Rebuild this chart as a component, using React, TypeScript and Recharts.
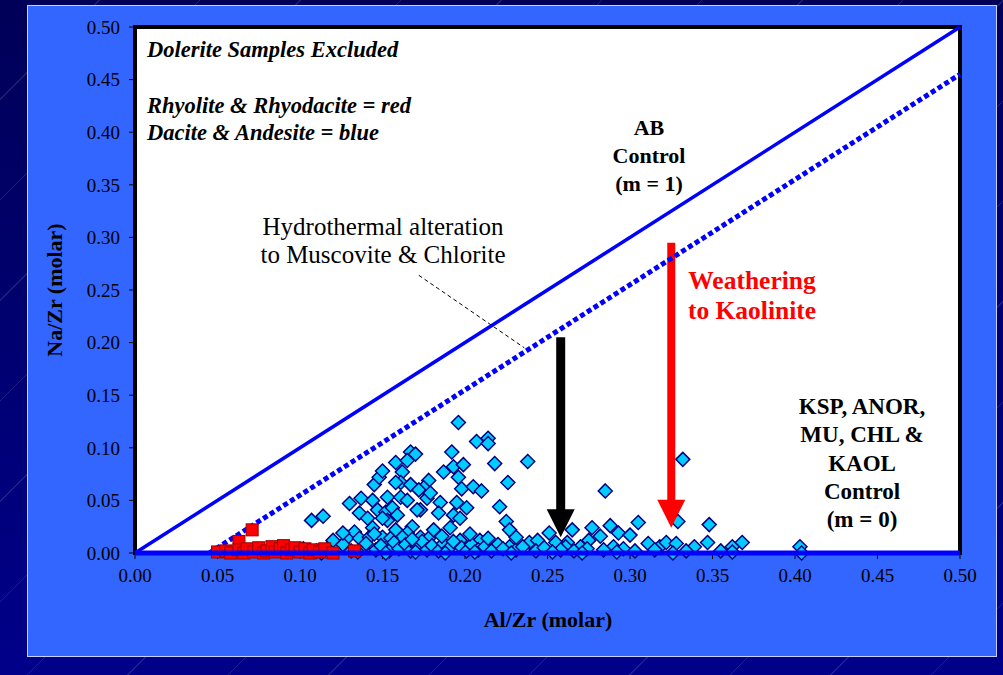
import { ScatterChart, Scatter, XAxis, YAxis, CartesianGrid, ReferenceArea, ReferenceLine, ReferenceDot } from 'recharts';

// Dacite & Andesite (blue) – Al/Zr vs Na/Zr (molar)
const daciteAndesite = [
  { x: 0.196, y: 0.124 }, { x: 0.207, y: 0.106 }, { x: 0.214, y: 0.109 }, { x: 0.214, y: 0.104 },
  { x: 0.192, y: 0.096 }, { x: 0.218, y: 0.085 }, { x: 0.238, y: 0.087 }, { x: 0.226, y: 0.067 },
  { x: 0.221, y: 0.044 }, { x: 0.225, y: 0.030 }, { x: 0.227, y: 0.022 }, { x: 0.178, y: 0.069 },
  { x: 0.193, y: 0.082 }, { x: 0.199, y: 0.084 }, { x: 0.187, y: 0.077 }, { x: 0.196, y: 0.072 },
  { x: 0.198, y: 0.061 }, { x: 0.205, y: 0.063 }, { x: 0.210, y: 0.059 }, { x: 0.185, y: 0.048 },
  { x: 0.195, y: 0.048 }, { x: 0.201, y: 0.043 }, { x: 0.184, y: 0.038 }, { x: 0.193, y: 0.036 },
  { x: 0.197, y: 0.033 }, { x: 0.177, y: 0.052 }, { x: 0.175, y: 0.062 }, { x: 0.173, y: 0.041 },
  { x: 0.107, y: 0.031 }, { x: 0.114, y: 0.035 }, { x: 0.130, y: 0.047 }, { x: 0.137, y: 0.052 },
  { x: 0.136, y: 0.038 }, { x: 0.144, y: 0.050 }, { x: 0.145, y: 0.065 }, { x: 0.148, y: 0.072 },
  { x: 0.150, y: 0.078 }, { x: 0.158, y: 0.086 }, { x: 0.167, y: 0.096 }, { x: 0.170, y: 0.094 },
  { x: 0.165, y: 0.088 }, { x: 0.162, y: 0.077 }, { x: 0.161, y: 0.067 }, { x: 0.158, y: 0.067 },
  { x: 0.153, y: 0.053 }, { x: 0.161, y: 0.053 }, { x: 0.167, y: 0.065 }, { x: 0.172, y: 0.060 },
  { x: 0.179, y: 0.057 }, { x: 0.165, y: 0.050 }, { x: 0.171, y: 0.041 }, { x: 0.147, y: 0.041 },
  { x: 0.152, y: 0.039 }, { x: 0.156, y: 0.043 }, { x: 0.159, y: 0.036 }, { x: 0.153, y: 0.031 },
  { x: 0.150, y: 0.033 }, { x: 0.141, y: 0.033 }, { x: 0.144, y: 0.024 }, { x: 0.168, y: 0.025 },
  { x: 0.165, y: 0.019 }, { x: 0.173, y: 0.015 }, { x: 0.162, y: 0.015 }, { x: 0.129, y: 0.015 },
  { x: 0.133, y: 0.020 }, { x: 0.136, y: 0.014 }, { x: 0.142, y: 0.015 }, { x: 0.150, y: 0.015 },
  { x: 0.155, y: 0.014 }, { x: 0.178, y: 0.014 }, { x: 0.181, y: 0.022 },
  { x: 0.251, y: 0.019 }, { x: 0.265, y: 0.022 }, { x: 0.277, y: 0.024 }, { x: 0.288, y: 0.026 },
  { x: 0.293, y: 0.019 }, { x: 0.300, y: 0.017 }, { x: 0.305, y: 0.029 }, { x: 0.282, y: 0.016 },
  { x: 0.275, y: 0.012 }, { x: 0.262, y: 0.010 }, { x: 0.239, y: 0.010 }, { x: 0.244, y: 0.012 },
  { x: 0.255, y: 0.010 }, { x: 0.311, y: 0.009 }, { x: 0.318, y: 0.006 }, { x: 0.322, y: 0.010 },
  { x: 0.328, y: 0.009 }, { x: 0.339, y: 0.006 }, { x: 0.290, y: 0.006 }, { x: 0.270, y: 0.006 },
  { x: 0.261, y: 0.006 }, { x: 0.227, y: 0.006 }, { x: 0.220, y: 0.008 }, { x: 0.209, y: 0.012 },
  { x: 0.197, y: 0.012 }, { x: 0.285, y: 0.059 }, { x: 0.332, y: 0.089 }, { x: 0.329, y: 0.030 },
  { x: 0.348, y: 0.027 }, { x: 0.347, y: 0.010 }, { x: 0.368, y: 0.010 }, { x: 0.362, y: 0.006 },
  { x: 0.403, y: 0.006 },
  { x: 0.102, y: 0.004 }, { x: 0.110, y: 0.002 }, { x: 0.118, y: 0.006 }, { x: 0.122, y: 0.003 },
  { x: 0.126, y: 0.008 }, { x: 0.131, y: 0.002 }, { x: 0.138, y: 0.005 }, { x: 0.140, y: 0.009 },
  { x: 0.146, y: 0.003 }, { x: 0.149, y: 0.007 }, { x: 0.154, y: 0.002 }, { x: 0.157, y: 0.010 },
  { x: 0.160, y: 0.004 }, { x: 0.164, y: 0.008 }, { x: 0.167, y: 0.002 }, { x: 0.171, y: 0.006 },
  { x: 0.174, y: 0.011 }, { x: 0.177, y: 0.003 }, { x: 0.180, y: 0.007 }, { x: 0.184, y: 0.002 },
  { x: 0.187, y: 0.009 }, { x: 0.190, y: 0.004 }, { x: 0.193, y: 0.011 }, { x: 0.198, y: 0.005 },
  { x: 0.201, y: 0.002 }, { x: 0.204, y: 0.008 }, { x: 0.208, y: 0.003 }, { x: 0.212, y: 0.006 },
  { x: 0.216, y: 0.002 }, { x: 0.223, y: 0.004 }, { x: 0.231, y: 0.003 }, { x: 0.235, y: 0.006 },
  { x: 0.243, y: 0.002 }, { x: 0.248, y: 0.005 }, { x: 0.258, y: 0.003 }, { x: 0.266, y: 0.002 },
  { x: 0.274, y: 0.004 }, { x: 0.284, y: 0.003 }, { x: 0.296, y: 0.004 }, { x: 0.303, y: 0.002 },
  { x: 0.315, y: 0.003 }, { x: 0.334, y: 0.002 }, { x: 0.355, y: 0.002 }, { x: 0.145, y: 0.018 },
  { x: 0.158, y: 0.022 }, { x: 0.186, y: 0.016 }, { x: 0.191, y: 0.024 }, { x: 0.168, y: 0.013 },
  { x: 0.203, y: 0.018 }, { x: 0.214, y: 0.014 }, { x: 0.231, y: 0.015 }, { x: 0.120, y: 0.012 },
  { x: 0.126, y: 0.019 },
  { x: 0.113, y: 0.000 }, { x: 0.135, y: 0.001 }, { x: 0.152, y: 0.000 }, { x: 0.170, y: 0.001 },
  { x: 0.188, y: 0.000 }, { x: 0.206, y: 0.001 }, { x: 0.228, y: 0.000 }, { x: 0.253, y: 0.001 },
  { x: 0.271, y: 0.000 }, { x: 0.292, y: 0.001 }, { x: 0.326, y: 0.000 }, { x: 0.362, y: 0.001 },
  { x: 0.404, y: 0.000 },
];

// Rhyolite & Rhyodacite (red)
const rhyoliteRhyodacite = [
  { x: 0.050, y: 0.001 }, { x: 0.055, y: 0.002 }, { x: 0.058, y: 0.000 }, { x: 0.063, y: 0.011 },
  { x: 0.063, y: 0.003 }, { x: 0.066, y: 0.000 }, { x: 0.071, y: 0.022 }, { x: 0.068, y: 0.004 },
  { x: 0.072, y: 0.001 }, { x: 0.075, y: 0.005 }, { x: 0.078, y: 0.000 }, { x: 0.080, y: 0.002 },
  { x: 0.083, y: 0.006 }, { x: 0.085, y: 0.001 }, { x: 0.088, y: 0.004 }, { x: 0.090, y: 0.007 },
  { x: 0.092, y: 0.000 }, { x: 0.095, y: 0.003 }, { x: 0.097, y: 0.005 }, { x: 0.100, y: 0.001 },
  { x: 0.103, y: 0.004 }, { x: 0.106, y: 0.000 }, { x: 0.108, y: 0.003 }, { x: 0.112, y: 0.001 },
  { x: 0.115, y: 0.004 }, { x: 0.120, y: 0.000 }, { x: 0.133, y: 0.002 },
];

// control lines
const abControl = [{ x: 0, y: 0 }, { x: 0.5, y: 0.5 }];
const abOffset = [{ x: 0.045, y: 0 }, { x: 0.5, y: 0.455 }];
const zeroControl = [{ x: 0, y: 0 }, { x: 0.5, y: 0 }];

const xTicks = [0, 0.05, 0.1, 0.15, 0.2, 0.25, 0.3, 0.35, 0.4, 0.45, 0.5];
const yTicks = [0, 0.05, 0.1, 0.15, 0.2, 0.25, 0.3, 0.35, 0.4, 0.45, 0.5];

const SERIF = '"Liberation Serif", "Times New Roman", serif';

const Diamond = ({ cx, cy }: any) => (
  <polygon
    points={`${cx},${cy - 7} ${cx + 7},${cy} ${cx},${cy + 7} ${cx - 7},${cy}`}
    fill="#00ccff"
    stroke="#000080"
    strokeWidth={1.5}
  />
);

const Square = ({ cx, cy }: any) => (
  <rect x={cx - 6} y={cy - 6} width={12} height={12} fill="#ff0000" stroke="#990000" strokeWidth={1} />
);

const ArrowHead = ({ cx, cy, color }: any) => (
  <polygon points={`${cx - 14},${cy - 28} ${cx + 14},${cy - 28} ${cx},${cy}`} fill={color} />
);

const noShape = () => <g />;

const txt = (extra: any) => ({
  position: 'absolute' as const,
  fontFamily: SERIF,
  color: '#000',
  whiteSpace: 'nowrap' as const,
  ...extra,
});

export default function App() {
  return (
    <div
      style={{
        position: 'absolute',
        left: 0,
        top: 0,
        width: 1003,
        height: 675,
        overflow: 'hidden',
        background:
          'repeating-linear-gradient(135deg, rgba(255,255,255,0) 0px, rgba(255,255,255,0) 70px, rgba(255,255,255,0.12) 70px, rgba(255,255,255,0.12) 71px), linear-gradient(#000058, #00008a)',
      }}
    >
      <div
        style={{
          position: 'absolute',
          left: 27,
          top: 5,
          width: 968,
          height: 650,
          background: '#3366ff',
          border: '1px solid #c8d0ff',
        }}
      />
      <div style={{ position: 'absolute', left: 0, top: 0 }}>
        <ScatterChart width={1003} height={675} margin={{ top: 27, right: 43, bottom: 62, left: 75 }}>
          <CartesianGrid horizontal={false} vertical={false} fill="#ffffff" />
          <XAxis
            type="number"
            dataKey="x"
            domain={[0, 0.5]}
            ticks={xTicks}
            interval={0}
            height={60}
            axisLine={false}
            tickLine={{ stroke: '#000' }}
            tickSize={6}
            tickMargin={10}
            tickFormatter={(v) => v.toFixed(2)}
            tick={{ fill: '#000', fontSize: 19, fontFamily: SERIF }}
          />
          <YAxis
            type="number"
            dataKey="y"
            domain={[0, 0.5]}
            ticks={yTicks}
            interval={0}
            width={60}
            axisLine={false}
            tickLine={{ stroke: '#000' }}
            tickSize={6}
            tickMargin={9}
            tickFormatter={(v) => v.toFixed(2)}
            tick={{ fill: '#000', fontSize: 19, fontFamily: SERIF }}
          />
          <ReferenceArea x1={0} x2={0.5} y1={0} y2={0.5} fill="none" stroke="#000" strokeWidth={4} />
          <ReferenceLine
            segment={[{ x: 0.172, y: 0.264 }, { x: 0.236, y: 0.195 }]}
            stroke="#000"
            strokeWidth={1}
            strokeDasharray="4 3"
          />
          <Scatter data={abControl} line={{ stroke: '#0000ff', strokeWidth: 3.5 }} shape={noShape} isAnimationActive={false} />
          <Scatter
            data={abOffset}
            line={{ stroke: '#0000ff', strokeWidth: 5, strokeDasharray: '5 3' }}
            shape={noShape}
            isAnimationActive={false}
          />
          <Scatter data={daciteAndesite} shape={Diamond} isAnimationActive={false} />
          <Scatter data={rhyoliteRhyodacite} shape={Square} isAnimationActive={false} />
          <Scatter data={zeroControl} line={{ stroke: '#0000ff', strokeWidth: 5 }} shape={noShape} isAnimationActive={false} />
          <ReferenceLine segment={[{ x: 0.258, y: 0.205 }, { x: 0.258, y: 0.04 }]} stroke="#000" strokeWidth={9} />
          <ReferenceDot x={0.258} y={0.015} r={1} shape={(p: any) => <ArrowHead {...p} color="#000" />} />
          <ReferenceLine segment={[{ x: 0.325, y: 0.295 }, { x: 0.325, y: 0.048 }]} stroke="#ff0000" strokeWidth={8} />
          <ReferenceDot x={0.325} y={0.024} r={1} shape={(p: any) => <ArrowHead {...p} color="#ff0000" />} />
        </ScatterChart>
      </div>

      <div style={txt({ left: 147, top: 37, fontSize: 22.5, fontWeight: 'bold', fontStyle: 'italic', lineHeight: '26px' })}>
        Dolerite Samples Excluded
      </div>
      <div style={txt({ left: 147, top: 92, fontSize: 22.5, fontWeight: 'bold', fontStyle: 'italic', lineHeight: '27px' })}>
        Rhyolite &amp; Rhyodacite = red
        <br />
        Dacite &amp; Andesite = blue
      </div>
      <div style={txt({ left: 549, width: 200, top: 114, textAlign: 'center', fontSize: 22, fontWeight: 'bold', lineHeight: '28px' })}>
        AB
        <br />
        Control
        <br />
        (m = 1)
      </div>
      <div style={txt({ left: 233, width: 300, top: 213, textAlign: 'center', fontSize: 25, lineHeight: '28px' })}>
        Hydrothermal alteration
        <br />
        to Muscovite &amp; Chlorite
      </div>
      <div style={txt({ left: 652, width: 200, top: 266, textAlign: 'center', fontSize: 25.5, fontWeight: 'bold', color: '#ff0000', lineHeight: '29.5px' })}>
        Weathering
        <br />
        to Kaolinite
      </div>
      <div style={txt({ left: 762, width: 200, top: 393, textAlign: 'center', fontSize: 23, fontWeight: 'bold', lineHeight: '28.3px' })}>
        KSP, ANOR,
        <br />
        MU, CHL &amp;
        <br />
        KAOL
        <br />
        Control
        <br />
        (m = 0)
      </div>
      <div style={txt({ left: 448, width: 200, top: 607, textAlign: 'center', fontSize: 22, fontWeight: 'bold', lineHeight: '26px' })}>
        Al/Zr (molar)
      </div>
      <div
        style={txt({
          left: -45,
          width: 200,
          top: 277,
          textAlign: 'center',
          fontSize: 22,
          fontWeight: 'bold',
          lineHeight: '26px',
          transform: 'rotate(-90deg)',
        })}
      >
        Na/Zr (molar)
      </div>
    </div>
  );
}
